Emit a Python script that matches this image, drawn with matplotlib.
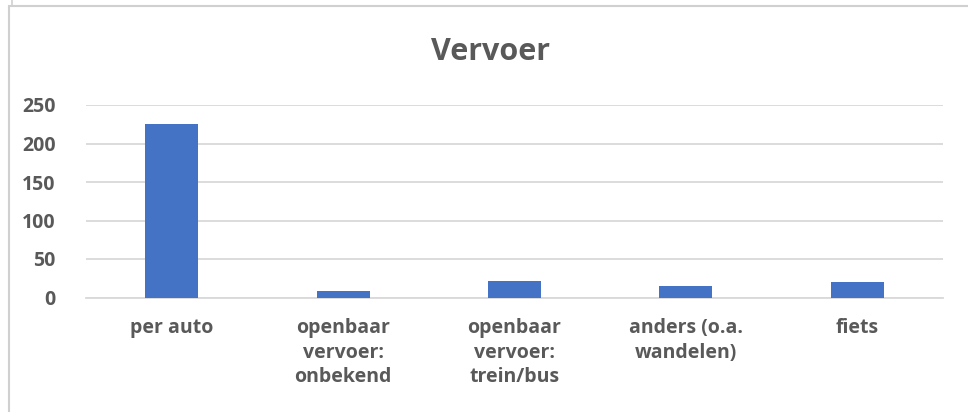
import matplotlib.pyplot as plt
from matplotlib.lines import Line2D
from matplotlib.patches import Rectangle

plt.rcParams['font.family'] = ['Open Sans', 'DejaVu Sans']

categories = ["per auto", "openbaar\nvervoer:\nonbekend", "openbaar\nvervoer:\ntrein/bus",
              "anders (o.a.\nwandelen)", "fiets"]
values = [225, 8, 22, 15, 20]
yticks = [0, 50, 100, 150, 200, 250]

text_col = '#595959'
grid_col = '#D9D9D9'
bar_col = '#4472C4'

W, H = 968, 412
fig = plt.figure(figsize=(W / 100, H / 100), dpi=100)
ax = fig.add_axes([86 / W, 1 - 297.5 / H, (943 - 86) / W, (297.5 - 105) / H])

x = list(range(len(categories)))
ax.bar(x, values, width=0.31, color=bar_col, zorder=3)
ax.set_xlim(-0.5, len(categories) - 0.5)
ax.set_ylim(0, 250)
ax.set_yticks(yticks)
ax.set_yticklabels([str(v) for v in yticks], fontsize=14, fontweight='bold', color=text_col)
ax.set_xticks(x)
ax.set_xticklabels(categories, fontsize=14, fontweight='bold', color=text_col,
                   va='top', linespacing=1.3)
ax.tick_params(axis='both', length=0)
ax.tick_params(axis='y', pad=22)
ax.tick_params(axis='x', pad=15)
ax.yaxis.grid(True, color=grid_col, linewidth=1.3, zorder=0)
for s in ['top', 'right', 'left']:
    ax.spines[s].set_visible(False)
ax.spines['bottom'].set_color(grid_col)
ax.spines['bottom'].set_linewidth(1.3)

fig.text(490 / W, 1 - 52 / H, "Vervoer", fontsize=22, fontweight='bold', color=text_col,
         ha='center', va='center')

# chart frame (screenshot crop)
fig.add_artist(Rectangle((9 / W, -0.1), 2.0, 1 - 6 / H + 0.1, transform=fig.transFigure,
                         fill=False, edgecolor='#D0D0D0', linewidth=1.5))
fig.add_artist(Line2D([12 / W, 12 / W], [1, 1 - 6 / H], transform=fig.transFigure,
                      color='#D0D0D0', linewidth=1.2))

fig.savefig('out.png', dpi=100, facecolor='white')
